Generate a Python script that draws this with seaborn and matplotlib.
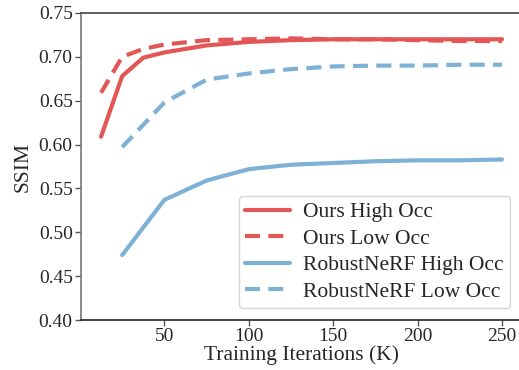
import matplotlib
matplotlib.use("Agg")
import matplotlib.pyplot as plt
import pandas as pd
import seaborn as sns

# data
iters_ours = [12.5, 25, 37.5, 50, 75, 100, 125, 150, 175, 200, 225, 250]
ours_high = [0.609, 0.678, 0.699, 0.705, 0.713, 0.717, 0.719, 0.720, 0.720, 0.720, 0.720, 0.720]
ours_low = [0.659, 0.700, 0.709, 0.714, 0.719, 0.720, 0.721, 0.720, 0.720, 0.719, 0.718, 0.718]

iters_rob = [25, 50, 75, 100, 125, 150, 175, 200, 225, 250]
rob_high = [0.474, 0.537, 0.559, 0.572, 0.577, 0.579, 0.581, 0.582, 0.582, 0.583]
rob_low = [0.597, 0.648, 0.674, 0.681, 0.686, 0.689, 0.690, 0.690, 0.691, 0.691]

labels = ["Ours High Occ", "Ours Low Occ", "RobustNeRF High Occ", "RobustNeRF Low Occ"]
red = "#e45656"
blue = "#7eb1d6"

rows = []
for it, v in zip(iters_ours, ours_high):
    rows.append((it, v, labels[0]))
for it, v in zip(iters_ours, ours_low):
    rows.append((it, v, labels[1]))
for it, v in zip(iters_rob, rob_high):
    rows.append((it, v, labels[2]))
for it, v in zip(iters_rob, rob_low):
    rows.append((it, v, labels[3]))
df = pd.DataFrame(rows, columns=["iters", "ssim", "method"])

sns.set_style("white")
plt.rcParams["font.family"] = ["Liberation Serif", "DejaVu Serif"]

fig, ax = plt.subplots(figsize=(5.19, 3.7), dpi=100)
sns.lineplot(data=df, x="iters", y="ssim", hue="method", style="method",
             palette={labels[0]: red, labels[1]: red, labels[2]: blue, labels[3]: blue},
             dashes={labels[0]: "", labels[1]: (3.6, 2), labels[2]: "", labels[3]: (3.6, 2)},
             linewidth=3, ax=ax)

ax.set_xlim(0.6, 261.9)
ax.set_ylim(0.40, 0.75)
ax.set_yticks([0.40, 0.45, 0.50, 0.55, 0.60, 0.65, 0.70, 0.75])
ax.set_xticks([50, 100, 150, 200, 250])
ax.tick_params(labelsize=14, length=4, width=1, left=True, bottom=True, color="#555555", pad=2)
ax.set_xlabel("Training Iterations (K)", fontsize=15.5, labelpad=0)
ax.set_ylabel("SSIM", fontsize=15.5, labelpad=4)
for s in ["left", "bottom", "top", "right"]:
    ax.spines[s].set_linewidth(1.2)
ax.spines["left"].set_color("#777777")
ax.spines["bottom"].set_color("#222222")
ax.spines["top"].set_color("#444444")

leg = ax.legend(loc="lower right", fontsize=15.5, handlelength=2.1, handletextpad=0.6,
                frameon=True, borderpad=0.3, labelspacing=0.3, borderaxespad=0.55)
leg.get_frame().set_edgecolor("#cccccc")

fig.subplots_adjust(left=0.156, right=1.006, top=0.965, bottom=0.135)
fig.savefig("out.png", dpi=100)
